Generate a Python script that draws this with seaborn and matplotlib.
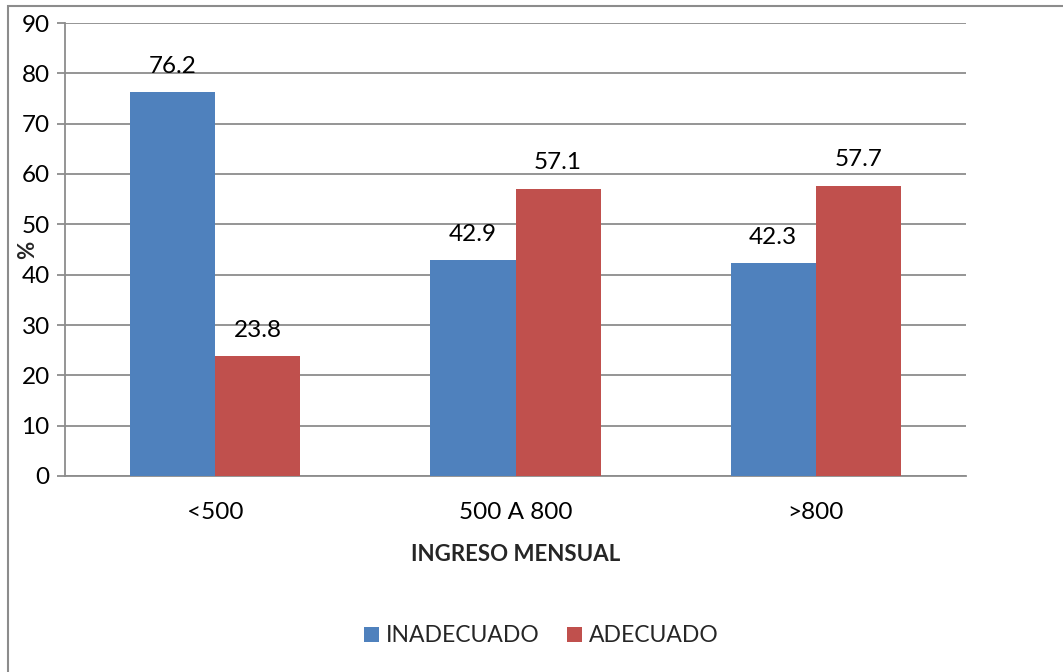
import matplotlib
matplotlib.use("Agg")
import matplotlib.pyplot as plt
import seaborn as sns
import pandas as pd
from matplotlib.patches import Rectangle, Patch

# Income brackets and share (%) per adequacy group
categories = ["<500", "500 A 800", ">800"]
inadecuado = [76.2, 42.9, 42.3]
adecuado = [23.8, 57.1, 57.7]
series_names = ["INADECUADO", "ADECUADO"]
colors = ["#4F81BD", "#C0504D"]
y_ticks = [0, 10, 20, 30, 40, 50, 60, 70, 80, 90]

df = pd.DataFrame({
    "ingreso": categories * 2,
    "valor": inadecuado + adecuado,
    "grupo": [series_names[0]] * 3 + [series_names[1]] * 3,
})

sns.set_theme(style="white")
plt.rcParams["font.family"] = ["Lato", "DejaVu Sans"]

fig = plt.figure(figsize=(10.63, 6.72), dpi=100)
ax = fig.add_axes([65 / 1063, 1 - 476 / 672, (966 - 65) / 1063, (476 - 23) / 672])

grid_c = "#8C8C8C"
sns.barplot(data=df, x="ingreso", y="valor", hue="grupo", order=categories,
            hue_order=series_names, palette=colors, width=0.567,
            saturation=1, linewidth=0, ax=ax, legend=False, zorder=3)

ax.set_ylim(0, 90)
ax.set_xlim(-0.5, 2.5)
ax.set_yticks(y_ticks)
ax.yaxis.grid(True, color=grid_c, linewidth=1.3, zorder=0)
ax.set_axisbelow(True)
for s in ["top", "right"]:
    ax.spines[s].set_visible(False)
for s in ["left", "bottom"]:
    ax.spines[s].set_color(grid_c)
    ax.spines[s].set_linewidth(1.3)
ax.tick_params(axis="y", which="major", length=6, width=1.3, color=grid_c,
               labelsize=17.5, pad=5, left=True)
ax.tick_params(axis="x", length=0, labelsize=17.5, pad=19)
for lbl in ax.get_yticklabels() + ax.get_xticklabels():
    lbl.set_color("black")

ax.set_xlabel("INGRESO MENSUAL", fontsize=16, fontweight="bold", labelpad=15)
ax.set_ylabel("")
fig.text(28 / 1063, 1 - 250 / 672, "%", rotation=90, fontsize=16,
         fontweight="bold", ha="center", va="center")

# Value labels above each bar
for cont in ax.containers:
    for bar in cont:
        h = bar.get_height()
        ax.annotate(f"{h:.1f}", (bar.get_x() + bar.get_width() / 2, h),
                    xytext=(0, 14), textcoords="offset points",
                    ha="center", va="baseline", fontsize=17.5, color="black")

handles = [Patch(facecolor=c, edgecolor="none") for c in colors]
fig.legend(handles, series_names, loc="center", bbox_to_anchor=(541 / 1063, 1 - 636 / 672),
           ncol=2, frameon=False, fontsize=16.5, handlelength=0.65, handleheight=0.65,
           handletextpad=0.3, columnspacing=1.2)

# Outer chart frame
fig.patches.append(Rectangle((8 / 1063, -0.5), 2, 1.5 - 6 / 672, transform=fig.transFigure,
                             fill=False, edgecolor="#8C8C8C", linewidth=1.5))

fig.savefig("out.png", dpi=100)
